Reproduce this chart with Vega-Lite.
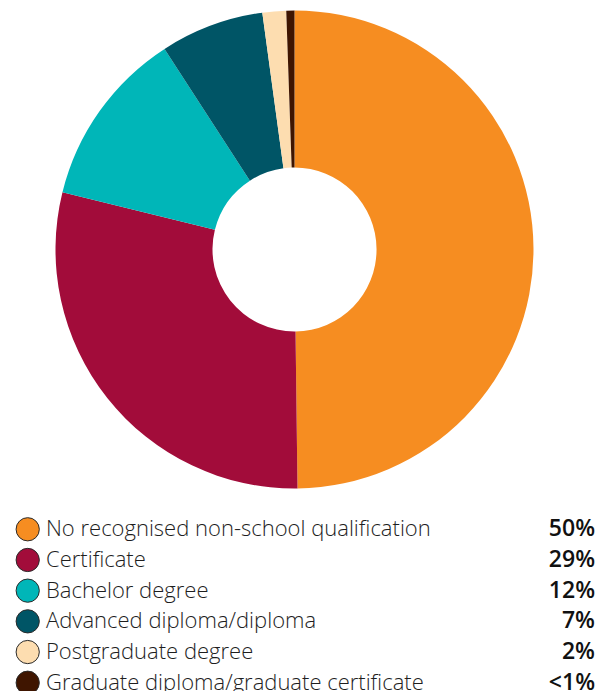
{
  "$schema": "https://vega.github.io/schema/vega-lite/v6.json",
  "padding": 0,
  "spacing": 16,
  "background": "white",
  "config": {"view": {"stroke": null}},
  "datasets": {
    "quals": [
      {"category": "No recognised non-school qualification", "share": 49.8, "label": "50%", "order": 1},
      {"category": "Certificate", "share": 29.05, "label": "29%", "order": 2},
      {"category": "Bachelor degree", "share": 12.0, "label": "12%", "order": 3},
      {"category": "Advanced diploma/diploma", "share": 7.0, "label": "7%", "order": 4},
      {"category": "Postgraduate degree", "share": 1.6, "label": "2%", "order": 5},
      {"category": "Graduate diploma/graduate certificate", "share": 0.55, "label": "<1%", "order": 6}
    ]
  },
  "vconcat": [
    {
      "width": 589,
      "height": 499,
      "data": {"name": "quals"},
      "mark": {"type": "arc", "outerRadius": 239, "innerRadius": 82},
      "encoding": {
        "theta": {"field": "share", "type": "quantitative", "stack": true},
        "order": {"field": "order", "type": "quantitative"},
        "color": {
          "field": "category", "type": "nominal", "legend": null,
          "scale": {
            "domain": ["No recognised non-school qualification", "Certificate", "Bachelor degree", "Advanced diploma/diploma", "Postgraduate degree", "Graduate diploma/graduate certificate"],
            "range": ["#F68D21", "#A20C3A", "#00B6B8", "#005566", "#FDDDB0", "#3F1500"]
          }
        }
      }
    },
    {
      "width": 611,
      "height": 174,
      "data": {"name": "quals"},
      "encoding": {
        "y": {
          "field": "category", "type": "nominal", "axis": null,
          "sort": {"field": "order"},
          "scale": {"type": "point", "padding": 0.335}
        }
      },
      "layer": [
        {
          "mark": {"type": "point", "filled": true, "size": 540, "stroke": "#2a2a2a", "strokeWidth": 1, "opacity": 1},
          "encoding": {
            "x": {"datum": 27.7, "type": "quantitative", "scale": {"domain": [0, 611], "nice": false, "zero": false}, "axis": null},
            "color": {
              "field": "category", "type": "nominal", "legend": null,
              "scale": {
                "domain": ["No recognised non-school qualification", "Certificate", "Bachelor degree", "Advanced diploma/diploma", "Postgraduate degree", "Graduate diploma/graduate certificate"],
                "range": ["#F68D21", "#A20C3A", "#00B6B8", "#005566", "#FDDDB0", "#3F1500"]
              }
            },
            "stroke": {"value": "#2a2a2a"}
          }
        },
        {
          "mark": {"type": "text", "align": "left", "baseline": "middle", "font": "Open Sans", "fontWeight": 300, "fontSize": 22, "color": "#1e1e1e"},
          "encoding": {
            "x": {"datum": 46, "type": "quantitative"},
            "text": {"field": "category"}
          }
        },
        {
          "mark": {"type": "text", "align": "right", "baseline": "middle", "font": "Open Sans", "fontWeight": 600, "fontSize": 23, "color": "#111111"},
          "encoding": {
            "x": {"datum": 595, "type": "quantitative"},
            "text": {"field": "label"}
          }
        }
      ]
    }
  ]
}
